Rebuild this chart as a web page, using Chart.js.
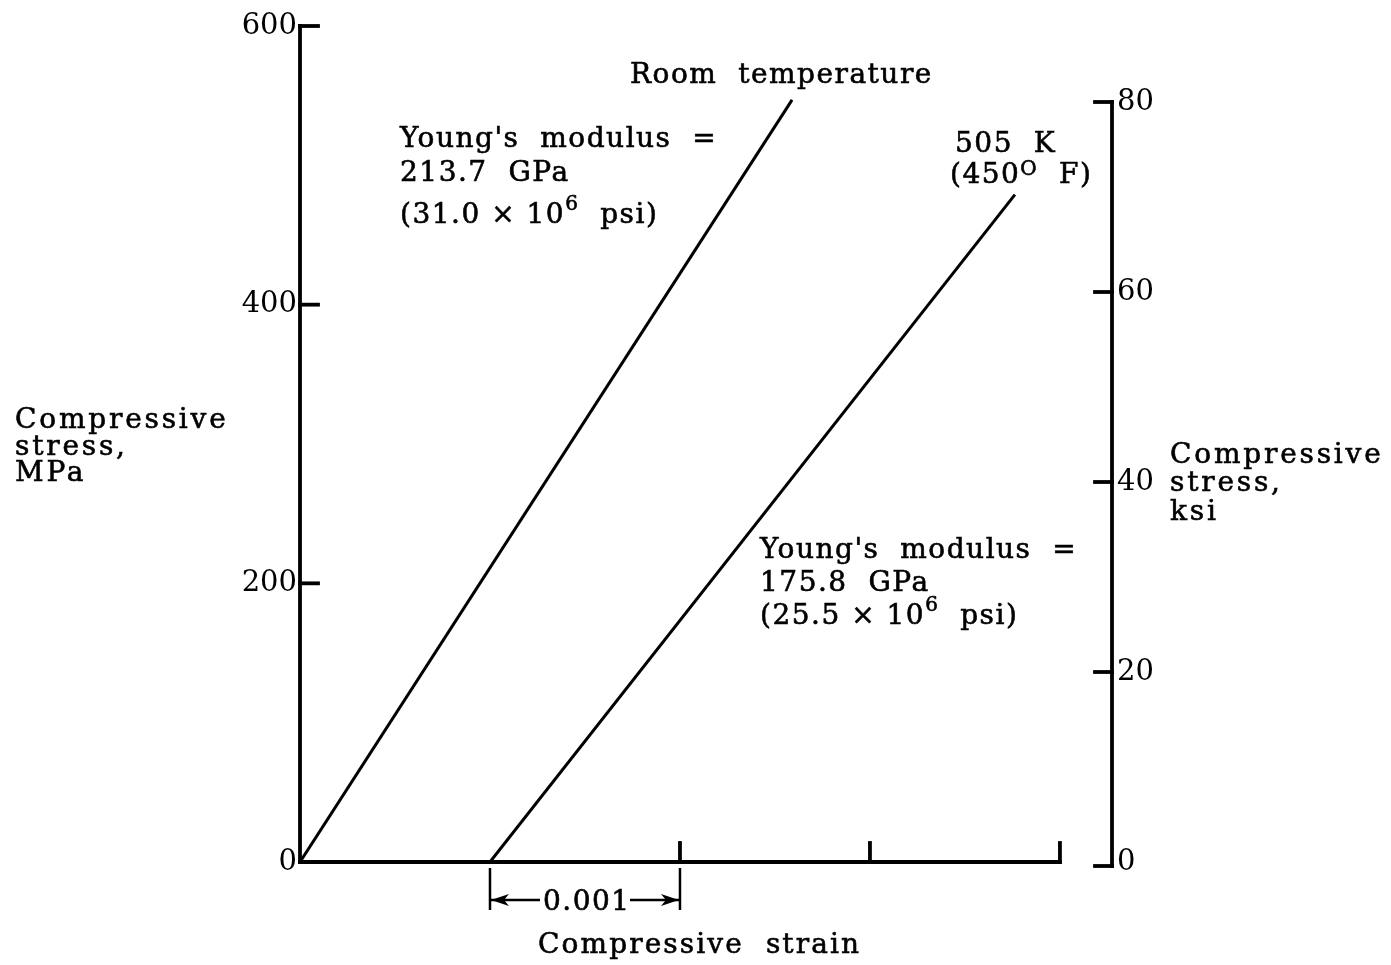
<!DOCTYPE html>
<html>
<head>
<meta charset="utf-8">
<script src="https://cdn.jsdelivr.net/npm/chart.js@4/dist/chart.umd.min.js"></script>
<style>
  html, body { margin: 0; padding: 0; background: #fff; }
  canvas { display: block; }
</style>
</head>
<body>
<canvas id="myChart" width="1391" height="965"></canvas>
<script>
// values
const roomStrain = [0, 0.00259];
const roomStress = [0, 547];          // MPa
const hotStrain = [0.001, 0.003763];
const hotStress = [0, 479];           // MPa

const mpaTicks = [0, 200, 400, 600];
const ksiTicks = [0, 20, 40, 60, 80];
const strainMarks = [0.002, 0.003, 0.004];
const strainAxisEnd = 0.004;

const serif = '"DejaVu Serif", "Liberation Serif", serif';

const grapharea = document.getElementById("myChart");

// text with optional superscript pieces: [text, raise (0 = normal)]
function drawRich(ctx, parts, x, y) {
  let cx = x;
  parts.forEach(([t, raise]) => {
    ctx.font = (raise ? "20px " : "28px ") + serif;
    ctx.fillText(t, cx, y - raise);
    ctx.strokeText(t, cx, y - raise);
    cx += ctx.measureText(t).width;
  });
}

const axisLines = {
  id: "axisLines",
  afterDatasetsDraw(chart) {
    const { ctx, scales } = chart;
    const { x, y, y2 } = scales;
    const line = (x1, y1, x2, y2_) => {
      ctx.beginPath();
      ctx.moveTo(x1, y1);
      ctx.lineTo(x2, y2_);
      ctx.stroke();
    };
    ctx.save();
    ctx.strokeStyle = "#000";
    ctx.fillStyle = "#000";
    ctx.lineWidth = 3.8;
    ctx.lineCap = "square";

    const x0 = x.getPixelForValue(0);
    const yb = y.getPixelForValue(0);
    // x axis + upward ticks
    line(x0, yb, x.getPixelForValue(strainAxisEnd), yb);
    strainMarks.forEach((v) => {
      const px = x.getPixelForValue(v);
      line(px, yb, px, yb - 19);
    });
    // left axis + inward ticks
    line(x0, yb, x0, y.getPixelForValue(mpaTicks[mpaTicks.length - 1]));
    mpaTicks.forEach((v) => {
      const py = y.getPixelForValue(v);
      line(x0, py, x0 + 18, py);
    });
    // right axis + inward ticks
    const xr = y2.left;
    line(xr, y2.getPixelForValue(0) + 4, xr, y2.getPixelForValue(ksiTicks[ksiTicks.length - 1]));
    ksiTicks.forEach((v) => {
      const py = y2.getPixelForValue(v) + (v === 0 ? 4 : 0);
      line(xr - 17, py, xr, py);
    });

    // 0.001 dimension bracket
    ctx.lineWidth = 2.5;
    ctx.lineCap = "butt";
    const bx1 = x.getPixelForValue(0.001);
    const bx2 = x.getPixelForValue(0.002);
    line(bx1, yb + 6, bx1, yb + 48);
    line(bx2, yb + 6, bx2, yb + 48);
    const ay = yb + 38;
    line(bx1, ay, bx1 + 50, ay);
    line(bx2 - 50, ay, bx2, ay);
    const head = (tx, dir) => {
      ctx.beginPath();
      ctx.moveTo(tx, ay);
      ctx.lineTo(tx + dir * 18, ay - 6);
      ctx.lineTo(tx + dir * 13, ay);
      ctx.lineTo(tx + dir * 18, ay + 6);
      ctx.closePath();
      ctx.fill();
    };
    head(bx1 + 1, 1);
    head(bx2 - 1, -1);

    // texts
    ctx.textBaseline = "alphabetic";
    ctx.textAlign = "left";
    ctx.lineWidth = 0.6;
    ctx.letterSpacing = "1.5px";
    drawRich(ctx, [["0.001", 0]], (bx1 + bx2) / 2 - 42, yb + 48);
    drawRich(ctx, [["Room  temperature", 0]], 630, 83);
    drawRich(ctx, [["Young's  modulus  =", 0]], 400, 147);
    drawRich(ctx, [["213.7  GPa", 0]], 400, 181);
    drawRich(ctx, [["(31.0 × 10", 0], ["6", 13], ["  psi)", 0]], 400, 223);
    drawRich(ctx, [["505  K", 0]], 955, 152);
    drawRich(ctx, [["(450", 0], ["O", 8], ["  F)", 0]], 950, 183);
    drawRich(ctx, [["Young's  modulus  =", 0]], 760, 558);
    drawRich(ctx, [["175.8  GPa", 0]], 760, 591);
    drawRich(ctx, [["(25.5 × 10", 0], ["6", 13], ["  psi)", 0]], 760, 624);
    ctx.letterSpacing = "2.1px";
    drawRich(ctx, [["Compressive  strain", 0]], 538, 953);
    ctx.letterSpacing = "2.8px";
    drawRich(ctx, [["Compressive", 0]], 15, 428);
    drawRich(ctx, [["stress,", 0]], 15, 455);
    drawRich(ctx, [["MPa", 0]], 15, 481);
    drawRich(ctx, [["Compressive", 0]], 1170, 463);
    drawRich(ctx, [["stress,", 0]], 1170, 491);
    drawRich(ctx, [["ksi", 0]], 1170, 520);
    ctx.restore();
  },
};

const data = {
  datasets: [
    {
      label: "Room temperature",
      data: roomStrain.map((s, i) => ({ x: s, y: roomStress[i] })),
      borderColor: "#000",
      borderWidth: 3,
      pointRadius: 0,
      showLine: true,
      yAxisID: "y",
    },
    {
      label: "505 K (450 F)",
      data: hotStrain.map((s, i) => ({ x: s, y: hotStress[i] })),
      borderColor: "#000",
      borderWidth: 3,
      pointRadius: 0,
      showLine: true,
      yAxisID: "y",
    },
  ],
};

const tickFont = { family: serif, size: 29 };

const config = {
  type: "scatter",
  data: data,
  plugins: [axisLines],
  options: {
    responsive: false,
    animation: false,
    layout: { padding: { top: 26, bottom: 103, left: 0, right: 0 } },
    plugins: { legend: { display: false }, tooltip: { enabled: false } },
    scales: {
      x: {
        type: "linear",
        display: false,
        min: 0,
        max: 0.004274,
      },
      y: {
        type: "linear",
        position: "left",
        min: 0,
        max: 600,
        afterBuildTicks: (s) => { s.ticks = mpaTicks.map((v) => ({ value: v })); },
        afterFit: (s) => { s.width = 300; },
        grid: { display: false, drawTicks: false },
        border: { display: false },
        ticks: { color: "#000", font: tickFont, padding: 3 },
      },
      y2: {
        type: "linear",
        position: "right",
        min: 0,
        max: 88,
        afterBuildTicks: (s) => { s.ticks = ksiTicks.map((v) => ({ value: v })); },
        afterFit: (s) => { s.width = 279; },
        grid: { display: false, drawTicks: false },
        border: { display: false },
        ticks: { color: "#000", font: tickFont, padding: 5 },
      },
    },
  },
};

const myChart = new Chart(grapharea, config);
</script>
</body>
</html>
